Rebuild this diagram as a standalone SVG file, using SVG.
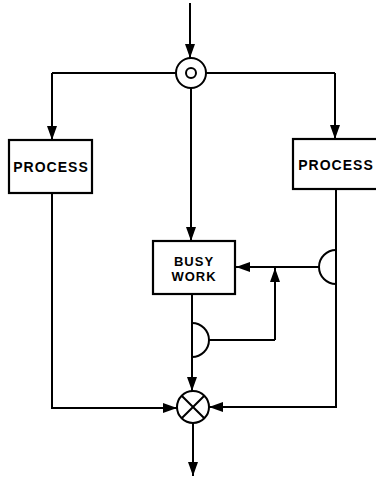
<svg xmlns="http://www.w3.org/2000/svg" width="376" height="480" viewBox="0 0 376 480">
<defs>
<marker id="ah" markerUnits="userSpaceOnUse" markerWidth="14" markerHeight="10" viewBox="0 0 14 10" refX="14" refY="5" orient="auto">
<path d="M0,0 L14,5 L0,10 Z" fill="#000"/>
</marker>
<style>
.ln{stroke:#000;stroke-width:2;fill:none}
.arr{stroke:#000;stroke-width:2;fill:none;marker-end:url(#ah)}
.box{stroke:#000;stroke-width:2.2;fill:#fff}
.t{font-family:"Liberation Sans",Arial,sans-serif;font-weight:bold;font-size:14px;letter-spacing:1px;fill:#000;text-anchor:middle}
.t2{font-size:13px}
</style>
</defs>
<rect width="376" height="480" fill="#fff"/>
<g id="connectors">
<path class="arr" d="M190,3 L190,58"/>
<path class="ln" d="M176,73 L52,73"/>
<path class="arr" d="M52,73 L52,140"/>
<path class="ln" d="M206,73 L335,73"/>
<path class="arr" d="M335,73 L335,139"/>
<path class="arr" d="M191,88 L191,241"/>
<path class="ln" d="M336,189 L336,407 L209,407"/>
<path class="arr" d="M220,407 L209,407"/>
<path class="ln" d="M336,250 A17,17 0 0 0 336,284"/>
<path class="arr" d="M319,267 L236,267"/>
<path class="arr" d="M275,340 L275,268"/>
<path class="ln" d="M192,294 L192,391"/>
<path class="arr" d="M192,360 L192,391"/>
<path class="ln" d="M192,323 A17,17 0 0 1 192,357"/>
<path class="ln" d="M209,340 L275,340"/>
<path class="arr" d="M52,193 L52,408 L177,408"/>
<path class="arr" d="M193,423 L193,476"/>
</g>
<g id="junction-top">
<circle class="ln" cx="191" cy="73" r="15"/>
<circle class="ln" cx="191" cy="73" r="5"/>
</g>
<g id="process-left">
<rect class="box" x="9" y="140" width="83" height="53"/>
<text class="t" x="51" y="172">PROCESS</text>
</g>
<g id="process-right">
<rect class="box" x="293" y="139" width="90" height="50"/>
<text class="t" x="336" y="170">PROCESS</text>
</g>
<g id="busy-work">
<rect class="box" x="153" y="241" width="82" height="53"/>
<text class="t t2" x="194" y="266">BUSY</text>
<text class="t t2" x="194" y="281">WORK</text>
</g>
<g id="junction-bottom">
<circle class="ln" cx="193" cy="407" r="16"/>
<path class="ln" d="M181.7,395.7 L204.3,418.3 M204.3,395.7 L181.7,418.3"/>
</g>
</svg>
